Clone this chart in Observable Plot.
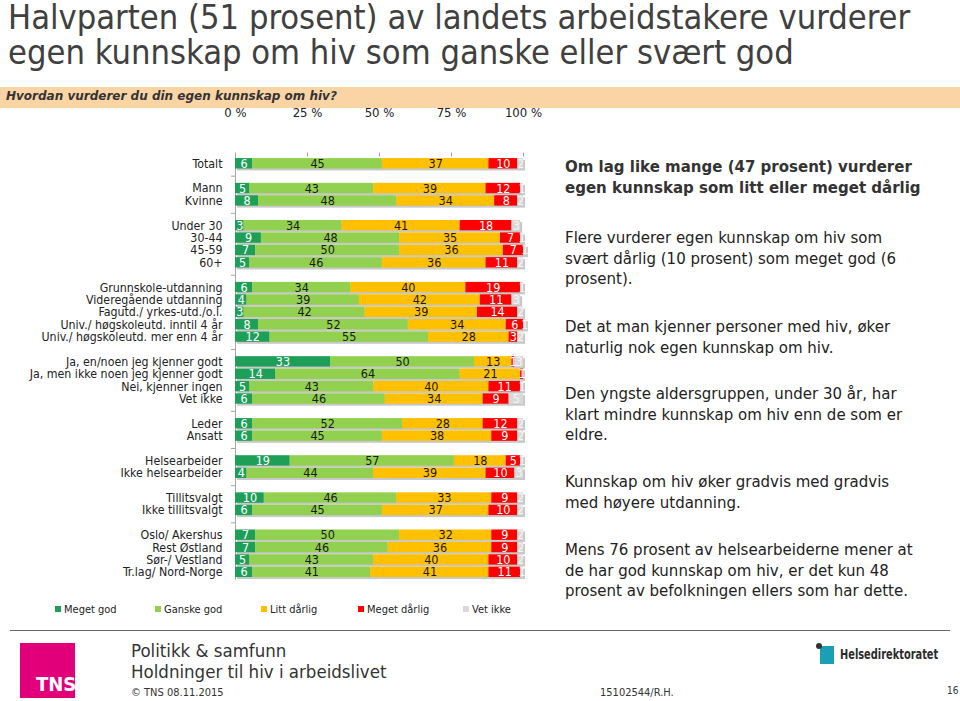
<!DOCTYPE html>
<html><head><meta charset="utf-8">
<script src="https://cdn.jsdelivr.net/npm/d3@7"></script>
<script src="https://cdn.jsdelivr.net/npm/@observablehq/plot@0.6"></script>
<style>
body{margin:0;background:#fff;}
#page{position:relative;width:960px;height:701px;overflow:hidden;font-family:"DejaVu Sans",Verdana,sans-serif;color:#333;}
.title{position:absolute;left:8px;top:0px;font-family:"DejaVu Sans Condensed",sans-serif;font-size:34.2px;line-height:35px;color:#404040;white-space:nowrap;}
.band{position:absolute;left:0;top:87px;width:960px;height:21px;background:#fbd4a6;}
.band span{position:absolute;left:6px;top:2px;font-size:12px;font-weight:bold;font-style:italic;color:#333;}
#chart{position:absolute;left:0;top:100px;}
.legend{position:absolute;top:603px;font-family:"DejaVu Sans Condensed",sans-serif;font-size:11px;color:#222;white-space:nowrap;}
.legend i{display:inline-block;width:6px;height:6px;margin-right:3px;vertical-align:1px;}
.side{position:absolute;left:565px;width:395px;font-size:15px;line-height:20.5px;color:#222;}
.side.head{font-weight:bold;color:#333;}
.foot{position:absolute;font-family:"DejaVu Sans Condensed",sans-serif;color:#333;white-space:nowrap;}
</style></head>
<body><div id="page">
<div class="title">Halvparten (51 prosent) av landets arbeidstakere vurderer<br>egen kunnskap om hiv som ganske eller svært god</div>
<div class="band"><span>Hvordan vurderer du din egen kunnskap om hiv?</span></div>
<div id="chart"></div>
<div id="legend"></div>
<div class="side head" style="top:157px">Om lag like mange (47 prosent) vurderer<br>egen kunnskap som litt eller meget dårlig</div>
<div class="side" style="top:228px">Flere vurderer egen kunnskap om hiv som<br>svært dårlig (10 prosent) som meget god (6<br>prosent).</div>
<div class="side" style="top:317px">Det at man kjenner personer med hiv, øker<br>naturlig nok egen kunnskap om hiv.</div>
<div class="side" style="top:384px">Den yngste aldersgruppen, under 30 år, har<br>klart mindre kunnskap om hiv enn de som er<br>eldre.</div>
<div class="side" style="top:472px">Kunnskap om hiv øker gradvis med gradvis<br>med høyere utdanning.</div>
<div class="side" style="top:540px">Mens 76 prosent av helsearbeiderne mener at<br>de har god kunnskap om hiv, er det kun 48<br>prosent av befolkningen ellers som har dette.</div>
<div style="position:absolute;left:10px;top:630px;width:940px;height:1px;background:#666;"></div>
<div style="position:absolute;left:20px;top:643px;width:55px;height:55px;background:#e2007a;"></div>
<div class="foot" style="left:36px;top:672px;font-size:20px;font-weight:bold;color:#fff;">TNS</div>
<div class="foot" style="left:131px;top:640px;font-size:18.5px;line-height:21px;">Politikk &amp; samfunn<br>Holdninger til hiv i arbeidslivet</div>
<div class="foot" style="left:131px;top:686px;font-size:11px;">© TNS 08.11.2015</div>
<div class="foot" style="left:600px;top:686px;font-size:11px;">15102544/R.H.</div>
<div class="foot" style="left:947px;top:685px;font-size:10px;">16</div>
<div style="position:absolute;left:820px;top:646px;width:14px;height:18px;background:#1a9fb5;"></div>
<div style="position:absolute;left:816px;top:643px;width:6px;height:6px;border-radius:3px;background:#333;"></div>
<div class="foot" style="left:840px;top:646px;font-size:14px;font-weight:bold;color:#2b2b2b;transform:scaleX(0.78);transform-origin:left top;">Helsedirektoratet</div>
</div>
<script>
const categories = ["Totalt","Mann","Kvinne","Under 30","30-44","45-59","60+","Grunnskole-utdanning","Videregående utdanning","Fagutd./ yrkes-utd./o.l.","Univ./ høgskoleutd. inntil 4 år","Univ./ høgskoleutd. mer enn 4 år","Ja, en/noen jeg kjenner godt","Ja, men ikke noen jeg kjenner godt","Nei, kjenner ingen","Vet ikke","Leder","Ansatt","Helsearbeider","Ikke helsearbeider","Tillitsvalgt","Ikke tillitsvalgt","Oslo/ Akershus","Rest Østland","Sør-/ Vestland","Tr.lag/ Nord-Norge"];
const groupIds = [0,1,1,2,2,2,2,3,3,3,3,3,4,4,4,4,5,5,6,6,7,7,8,8,8,8];
const responses = ["Meget god","Ganske god","Litt dårlig","Meget dårlig","Vet ikke"];
const megetGod    = [6,5,8,3,9,7,5,6,4,3,8,12,33,14,5,6,6,6,19,4,10,6,7,7,5,6];
const ganskeGod   = [45,43,48,34,48,50,46,34,39,42,52,55,50,64,43,46,52,45,57,44,46,45,50,46,43,41];
const littDarlig  = [37,39,34,41,35,36,36,40,42,39,34,28,13,21,40,34,28,38,18,39,33,37,32,36,40,41];
const megetDarlig = [10,12,8,18,7,7,11,19,11,14,6,3,1,1,11,9,12,9,5,10,9,10,9,9,10,11];
const vetIkke     = [2,1,2,3,1,1,2,1,3,2,1,2,3,0,1,5,2,2,1,3,2,2,2,2,2,1];
const xTicks = [0,25,50,75,100];

const colors = ["#1e9f57","#92d050","#ffc000","#ff0000","#d9d9d9"];
const labelColors = ["#ffffff","#1a1a1a","#1a1a1a","#ffffff","#f4f4f4"];
const series = [megetGod, ganskeGod, littDarlig, megetDarlig, vetIkke];

const rows = [];
categories.forEach((c, i) => {
  let acc = 0;
  responses.forEach((r, j) => {
    const v = series[j][i];
    rows.push({cat: c, resp: r, value: v, x1: acc, x2: acc + v, mid: acc + v / 2});
    acc += v;
  });
});
const totals = categories.map((c, i) => ({cat: c, total: series.reduce((s, a) => s + a[i], 0)}));
const domain = [];
categories.forEach((c, i) => {
  if (i > 0 && groupIds[i] !== groupIds[i - 1]) domain.push("_gap" + i);
  domain.push(c);
});
const gaps = domain.filter(d => d.startsWith("_gap"));

const chart = Plot.plot({
  width: 540, height: 485,
  marginLeft: 235, marginRight: 17, marginTop: 55.6, marginBottom: 5.5,
  style: {fontFamily: "'DejaVu Sans Condensed', sans-serif", fontSize: "12px", color: "#222", background: "transparent", overflow: "visible"},
  x: {domain: [0, 100], axis: null},
  y: {domain, axis: null, paddingInner: 0.16, paddingOuter: 0.2, round: false},
  color: {domain: responses, range: colors},
  marks: [
    Plot.axisX({anchor: "top", ticks: xTicks, tickFormat: d => d + " %", tickSize: 4, tickPadding: 35, stroke: "#a0a0a0", fill: "#222", fontSize: 13, label: null}),
    Plot.axisY({tickSize: 0, tickPadding: 13, tickFormat: d => d.startsWith("_gap") ? "" : d, fontSize: 12.3, fill: "#222", label: null}),
    Plot.ruleX([0], {stroke: "#a6a6a6"}),
    Plot.ruleY(gaps, {y: d => d, x1: -1.4, x2: 0, stroke: "#a6a6a6"}),
    Plot.barX(totals, {x1: 0, x2: "total", y: "cat", fill: "#c8c8c8", dx: 2, dy: 2}),
    Plot.barX(rows, {x1: "x1", x2: "x2", y: "cat", fill: "resp"}),
    ...responses.map((r, j) => Plot.text(rows.filter(d => d.resp === r && d.value > 0), {
      x: "mid", y: "cat", text: "value", fill: labelColors[j], fontSize: 12.5,
      fontFamily: "'DejaVu Sans Condensed', sans-serif"
    }))
  ]
});
document.getElementById("chart").appendChild(chart);

const legendX = [55, 155, 261, 358, 463];
document.getElementById("legend").innerHTML = responses.map((r, j) =>
  `<div class="legend" style="left:${legendX[j]}px"><i style="background:${colors[j]}"></i>${r}</div>`).join("");
</script>
</body></html>
